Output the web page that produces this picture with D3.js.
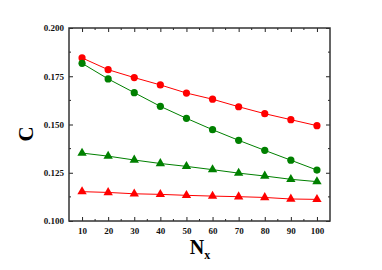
<!DOCTYPE html>
<html>
<head>
<meta charset="utf-8">
<script src="https://cdn.jsdelivr.net/npm/d3@7"></script>
<style>
  body { margin: 0; background: #fff; }
  svg { display: block; }
</style>
</head>
<body>
<div id="chart"></div>
<script>
// data
const nx = [10, 20, 30, 40, 50, 60, 70, 80, 90, 100];
const redCircles   = [0.1845, 0.1784, 0.1743, 0.1705, 0.1663, 0.1631, 0.1592, 0.1556, 0.1525, 0.1494];
const greenCircles = [0.1817, 0.1736, 0.1665, 0.1594, 0.1532, 0.1473, 0.1418, 0.1366, 0.1315, 0.1264];
const greenTri     = [0.1352, 0.1336, 0.1316, 0.1298, 0.1283, 0.1266, 0.1248, 0.1233, 0.1216, 0.1204];
const redTri       = [0.1152, 0.1148, 0.1141, 0.1138, 0.1133, 0.1129, 0.1126, 0.1122, 0.1114, 0.1112];
const yTicks = [0.100, 0.125, 0.150, 0.175, 0.200];

const series = [
  { values: redCircles,   color: "#ff0000", shape: "circle" },
  { values: greenCircles, color: "#008000", shape: "circle" },
  { values: greenTri,     color: "#008000", shape: "triangle" },
  { values: redTri,       color: "#ff0000", shape: "triangle" }
];

const width = 382, height = 270;
const margin = { left: 69, right: 52, top: 28, bottom: 49 };
const serif = "'Liberation Serif', 'Times New Roman', serif";

const svg = d3.select("#chart").append("svg")
  .attr("width", width)
  .attr("height", height)
  .attr("font-family", serif);

const x = d3.scaleLinear().domain([5, 105]).range([margin.left, width - margin.right]);
const y = d3.scaleLinear().domain([0.1, 0.2]).range([height - margin.bottom, margin.top]);

const fmt = d3.format(".3f");
const minorX = d3.range(15, 100, 10);
const minorY = d3.range(0.1125, 0.2, 0.025);

// ticks inside, all four sides
const axisB = d3.axisBottom(x).tickValues(nx).tickSize(-4).tickPadding(7);
const axisT = d3.axisTop(x).tickValues(nx).tickSize(-4).tickFormat("");
const axisL = d3.axisLeft(y).tickValues(yTicks).tickSize(-4).tickPadding(5).tickFormat(fmt);
const axisR = d3.axisRight(y).tickValues(yTicks).tickSize(-4).tickFormat("");

function styleAxis(g) {
  g.attr("font-family", serif);
  g.select(".domain").remove();
  g.selectAll(".tick line").attr("stroke", "#222").attr("stroke-width", 1);
  g.selectAll("text").attr("font-size", 9).attr("font-weight", "bold").attr("fill", "#111");
}

const H = height - margin.bottom, W = width - margin.right;
svg.append("g").attr("transform", `translate(0,${H})`).call(axisB).call(styleAxis);
svg.append("g").attr("transform", `translate(0,${margin.top})`).call(axisT).call(styleAxis);
svg.append("g").attr("transform", `translate(${margin.left},0)`).call(axisL).call(styleAxis);
svg.append("g").attr("transform", `translate(${W},0)`).call(axisR).call(styleAxis);

// minor ticks
const minor = svg.append("g").attr("stroke", "#222").attr("stroke-width", 1);
minorX.forEach(v => {
  minor.append("line").attr("x1", x(v)).attr("x2", x(v)).attr("y1", H).attr("y2", H - 2);
  minor.append("line").attr("x1", x(v)).attr("x2", x(v)).attr("y1", margin.top).attr("y2", margin.top + 2);
});
minorY.forEach(v => {
  minor.append("line").attr("x1", margin.left).attr("x2", margin.left + 2).attr("y1", y(v)).attr("y2", y(v));
  minor.append("line").attr("x1", W).attr("x2", W - 2).attr("y1", y(v)).attr("y2", y(v));
});

// frame
svg.append("rect")
  .attr("x", margin.left).attr("y", margin.top)
  .attr("width", W - margin.left).attr("height", H - margin.top)
  .attr("fill", "none").attr("stroke", "#333").attr("stroke-width", 1.5);

const line = d3.line().x((d, i) => x(nx[i])).y(d => y(d));
const tri = d3.symbol().type(d3.symbolTriangle).size(38);

series.forEach(s => {
  svg.append("path").datum(s.values)
    .attr("d", line).attr("fill", "none")
    .attr("stroke", s.color).attr("stroke-width", 1);
  const g = svg.append("g");
  if (s.shape === "circle") {
    g.selectAll("circle").data(s.values).join("circle")
      .attr("cx", (d, i) => x(nx[i])).attr("cy", d => y(d))
      .attr("r", 3.6).attr("fill", s.color);
  } else {
    g.selectAll("path").data(s.values).join("path")
      .attr("d", tri)
      .attr("transform", (d, i) => `translate(${x(nx[i])},${y(d)})`)
      .attr("fill", s.color);
  }
});

// axis titles
svg.append("text")
  .attr("transform", `translate(33,134) rotate(-90)`)
  .attr("text-anchor", "middle")
  .attr("font-size", 21).attr("font-weight", "bold")
  .text("C");

const xt = svg.append("text")
  .attr("x", 200).attr("y", 254)
  .attr("text-anchor", "middle")
  .attr("font-size", 20).attr("font-weight", "bold");
xt.append("tspan").text("N");
xt.append("tspan").attr("font-size", 12).attr("dy", 5).text("x");
</script>
</body>
</html>
